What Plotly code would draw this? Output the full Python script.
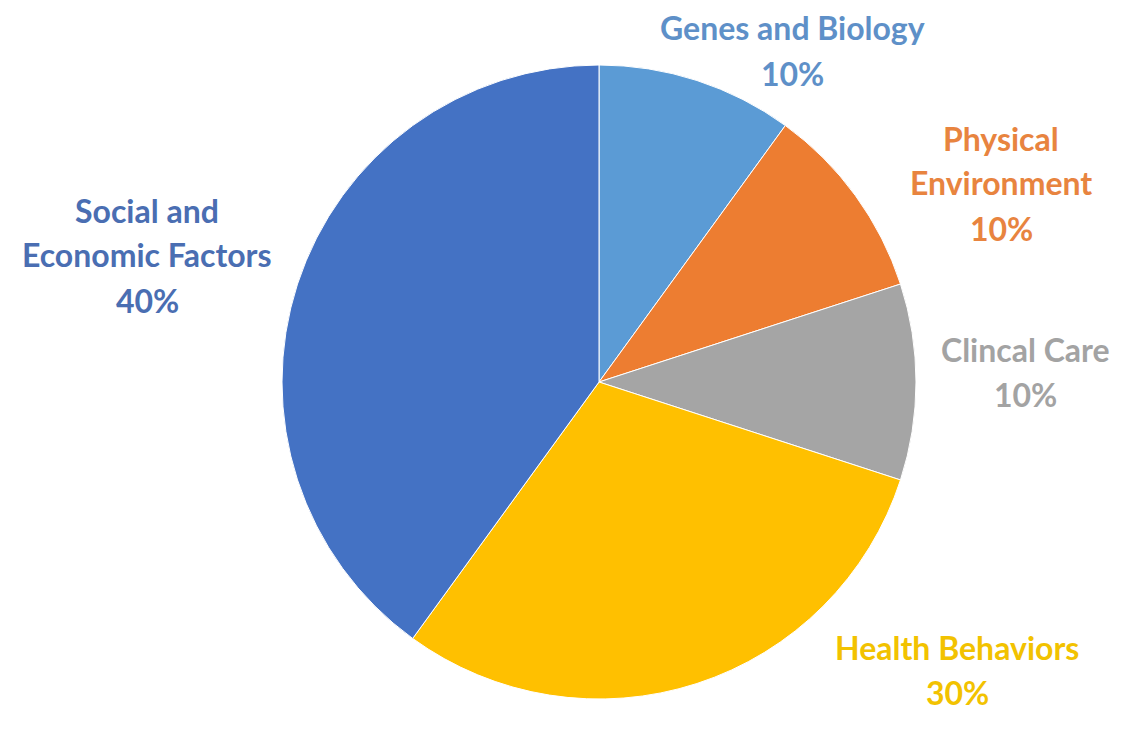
import plotly.graph_objects as go

categories = ["Genes and Biology", "Physical Environment", "Clincal Care", "Health Behaviors", "Social and Economic Factors"]
values = [10, 10, 10, 30, 40]
slice_colors = ["#5B9BD5", "#ED7D31", "#A5A5A5", "#FFC000", "#4472C4"]
label_colors = ["#5E90C8", "#E8843F", "#A3A3A3", "#F2C200", "#4A6EB2"]
label_lines = [
    ["Genes and Biology"],
    ["Physical", "Environment"],
    ["Clincal Care"],
    ["Health Behaviors"],
    ["Social and", "Economic Factors"],
]
# label block positions (paper px): center x, first-line y
label_pos = [(792, 28), (1001, 138), (1025, 349), (957, 647), (147, 210)]

W, H = 1121, 738
cx, cy, r = 599, 382, 317
line_gap = 45

fig = go.Figure(go.Pie(
    labels=categories,
    values=values,
    sort=False,
    direction="clockwise",
    rotation=0,
    marker=dict(colors=slice_colors, line=dict(color="white", width=1)),
    textinfo="none",
    hoverinfo="label+percent",
    showlegend=False,
    domain=dict(x=[(cx - r) / W, (cx + r) / W], y=[(H - cy - r) / H, (H - cy + r) / H]),
))

total = sum(values)
annotations = []
for lines, v, col, (x, y0) in zip(label_lines, values, label_colors, label_pos):
    texts = lines + [f"{round(100 * v / total)}%"]
    for i, t in enumerate(texts):
        annotations.append(dict(
            x=x / W, y=1 - (y0 + i * line_gap) / H, xref="paper", yref="paper",
            text=t, showarrow=False, xanchor="center", yanchor="middle",
            font=dict(family="Lato", size=32, color=col, weight="bold"),
        ))

fig.update_layout(
    width=W, height=H,
    margin=dict(l=0, r=0, t=0, b=0),
    paper_bgcolor="white", plot_bgcolor="white",
    annotations=annotations,
)

fig.write_html("out.html")
